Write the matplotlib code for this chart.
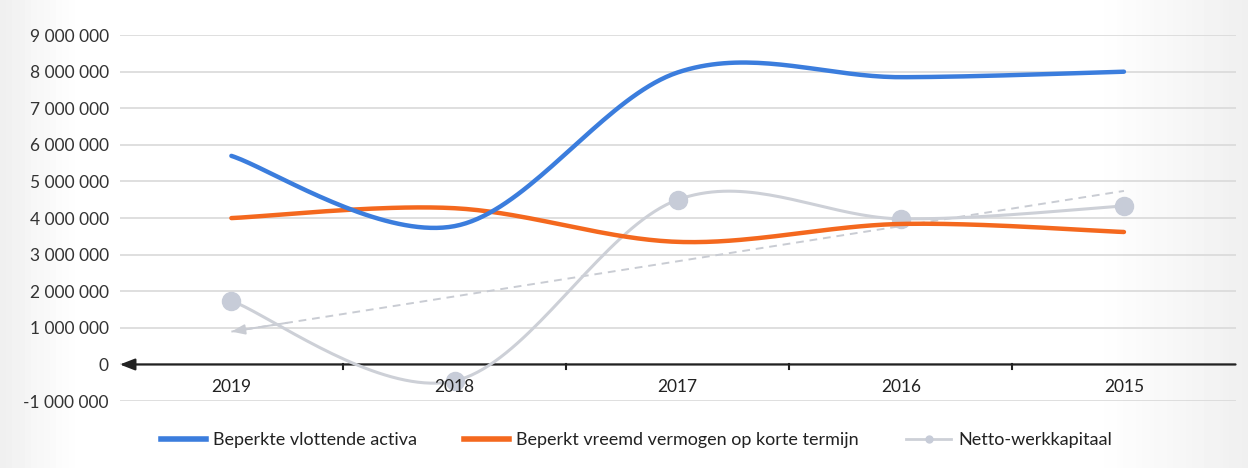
import numpy as np
import matplotlib
matplotlib.use("Agg")
import matplotlib.pyplot as plt

plt.rcParams['font.family'] = ['Lato', 'DejaVu Sans']

years = ["2019", "2018", "2017", "2016", "2015"]
vlottende_activa = [5700000, 3780000, 7980000, 7850000, 8000000]
vreemd_vermogen = [4000000, 4270000, 3350000, 3840000, 3620000]
netto_werkkapitaal = [1740000, -450000, 4500000, 3980000, 4330000]
y_ticks = list(range(-1000000, 9000001, 1000000))
legend_labels = ["Beperkte vlottende activa",
                 "Beperkt vreemd vermogen op korte termijn",
                 "Netto-werkkapitaal"]


def smooth(xs, ys, n=40):
    """Excel-like smoothed line (Bezier with 1/6 control points)."""
    xs = np.asarray(xs, float)
    ys = np.asarray(ys, float)
    px, py = [], []
    m = len(xs)
    for i in range(m - 1):
        x0, y0 = (xs[i - 1], ys[i - 1]) if i > 0 else (xs[i], ys[i])
        x1, y1 = xs[i], ys[i]
        x2, y2 = xs[i + 1], ys[i + 1]
        x3, y3 = (xs[i + 2], ys[i + 2]) if i + 2 < m else (x2, y2)
        c1x, c1y = x1 + (x2 - x0) / 6, y1 + (y2 - y0) / 6
        c2x, c2y = x2 - (x3 - x1) / 6, y2 - (y3 - y1) / 6
        t = np.linspace(0, 1, n)
        bx = (1 - t) ** 3 * x1 + 3 * (1 - t) ** 2 * t * c1x + 3 * (1 - t) * t ** 2 * c2x + t ** 3 * x2
        by = (1 - t) ** 3 * y1 + 3 * (1 - t) ** 2 * t * c1y + 3 * (1 - t) * t ** 2 * c2y + t ** 3 * y2
        px.extend(bx)
        py.extend(by)
    return np.array(px), np.array(py)


fig = plt.figure(figsize=(12.48, 4.68), dpi=100)
fig.patch.set_facecolor("white")
# faint grey scan-like edges
bg = fig.add_axes([0, 0, 1, 1], zorder=-10)
xx = np.linspace(0, 1, 200)
grad = np.ones((10, 200)) * (1 - 0.06 * np.clip(1 - xx / 0.06, 0, 1)
                             - 0.06 * np.clip((xx - 0.88) / 0.12, 0, 1))
bg.imshow(grad, cmap="gray", vmin=0, vmax=1, aspect="auto", extent=[0, 1, 0, 1])
bg.set_axis_off()

ax = fig.add_axes([0.096, 0.143, 0.894, 0.782])
ax.set_facecolor("none")
x = np.arange(len(years))
ax.set_xlim(-0.5, len(years) - 0.5)
ax.set_ylim(-1000000, 9000000)

ax.set_yticks(y_ticks)
ax.set_yticklabels([f"{v:,}".replace(",", " ") for v in y_ticks])
ax.set_xticks([])
ax.tick_params(axis="both", length=0, labelsize=12.5, colors="#333333")
ax.tick_params(axis="y", pad=8)
for xi, yr in zip(x, years):
    ax.text(xi, -620000, yr, ha="center", va="center", fontsize=12.5, color="#222222", zorder=10)
ax.grid(axis="y", color="#d9d9d9", linewidth=1.2)
for s in ax.spines.values():
    s.set_visible(False)

# x axis line at zero with arrow on the left
ax.annotate("", xy=(-0.5, 0), xytext=(len(years) - 0.5, 0),
            arrowprops=dict(arrowstyle="-|>,head_length=0.9,head_width=0.35", color="#222222",
                            lw=1.6, shrinkA=0, shrinkB=0), zorder=3)
for b in np.arange(0.5, len(years) - 0.5, 1.0):
    ax.plot([b, b], [0, -120000], color="#222222", lw=1.5, zorder=3)

# trendline for netto-werkkapitaal
coef = np.polyfit(x, netto_werkkapitaal, 1)
trend = np.polyval(coef, x)
ax.plot(x, trend, color="#c9ccd3", lw=1.4, ls=(0, (4, 3)), zorder=2)
ax.annotate("", xy=(x[0], trend[0]), xytext=(x[0] + 0.25, np.polyval(coef, x[0] + 0.25)),
            arrowprops=dict(arrowstyle="-|>,head_length=0.8,head_width=0.3", color="#c9ccd3",
                            lw=1.4, shrinkA=0, shrinkB=0), zorder=2)

sx, sy = smooth(x, netto_werkkapitaal)
ax.plot(sx, sy, color="#cdd0d7", lw=2.2, zorder=4)
ax.plot(x, netto_werkkapitaal, ls="none", marker="o", ms=13, color="#c7ccd8", zorder=5)

sx, sy = smooth(x, vreemd_vermogen)
ax.plot(sx, sy, color="#f4681e", lw=3.2, solid_capstyle="round", zorder=6)
sx, sy = smooth(x, vlottende_activa)
ax.plot(sx, sy, color="#3b7ddd", lw=3.2, solid_capstyle="round", zorder=7)

# legend
h1 = plt.Line2D([], [], color="#3b7ddd", lw=4)
h2 = plt.Line2D([], [], color="#f4681e", lw=4)
h3 = plt.Line2D([], [], color="#cdd0d7", lw=2, marker="o", ms=5, markerfacecolor="#c7ccd8",
                markeredgecolor="#c7ccd8")
fig.legend([h1, h2, h3], legend_labels, loc="center", bbox_to_anchor=(0.51, 0.06), ncol=3,
           frameon=False, fontsize=13, handlelength=2.5, columnspacing=2.6, handletextpad=0.4,
           labelcolor="#222222")

fig.savefig("out.png", dpi=100)
